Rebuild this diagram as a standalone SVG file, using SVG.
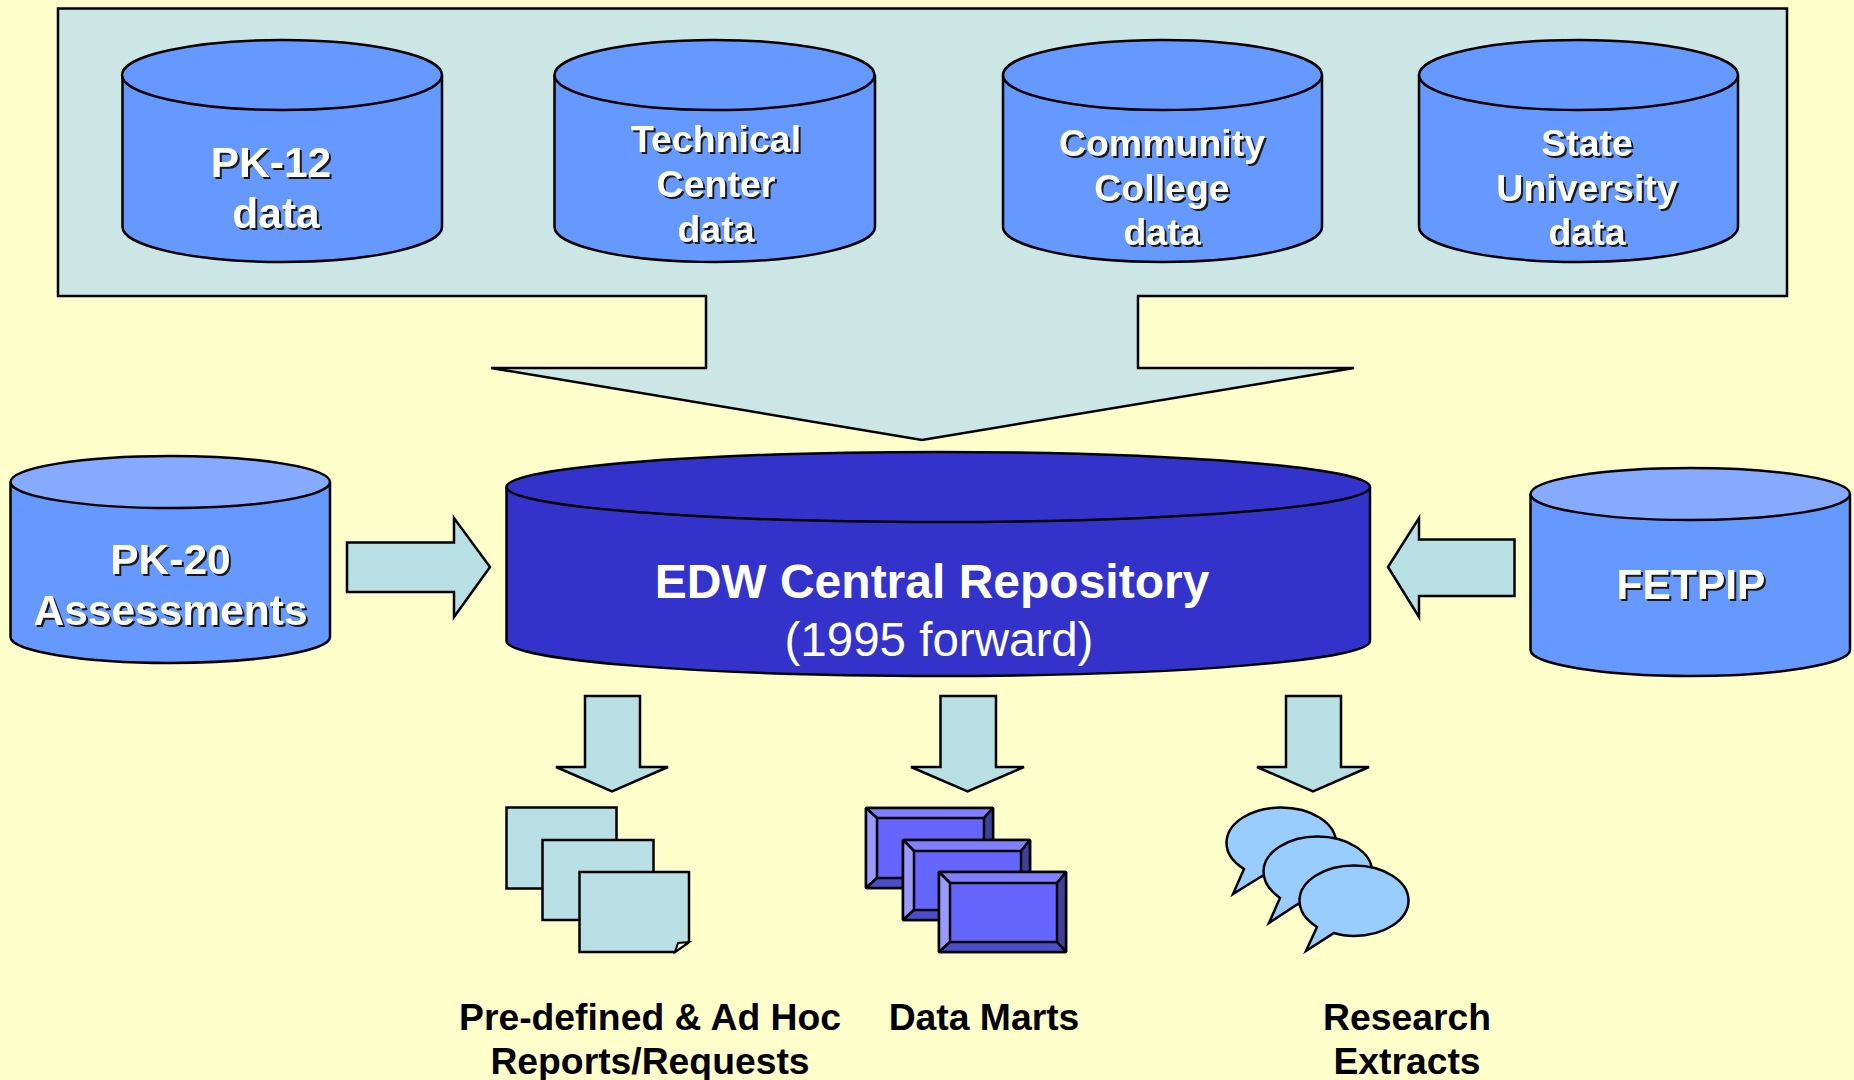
<svg xmlns="http://www.w3.org/2000/svg" width="1854" height="1080" viewBox="0 0 1854 1080">
<style>
.o{stroke:#000;stroke-width:2.500;stroke-linejoin:miter}
.cyl{fill:#6699ff}.cylt{fill:#85aaff}.edw{fill:#3333cc}
.fr{fill:#cce6e6}.ar{fill:#b8e0e4}.doc{fill:#b8e0e4}.bub{fill:#99ccff}
.m{fill:#6666ff}.mt{fill:#8080ff}.ml{fill:#9999ff}.mr{fill:#404099}.mb{fill:#4d4dcc}
.k{stroke-linejoin:bevel}
text{font-family:"Liberation Sans",Arial,sans-serif;text-anchor:middle}
.w{fill:#fff;font-weight:bold;filter:drop-shadow(2px 2px 0 #1a1a1a)}
.s42{font-size:42.500px}.s37{font-size:37.500px}
.b{fill:#000;font-weight:bold;font-size:37.300px}
.t1{fill:#fff;font-weight:bold;font-size:48px}.t2{fill:#fff;font-size:47.500px}
</style>
<rect width="1854" height="1080" fill="#ffffcc"/>
<g id="source-frame"><path class="o fr" d="M58 8.500H1787V296H1138V368H1354L922 440L491 368H706V296H58Z"/></g>
<g id="pk12"><path class="o cyl" d="M122.500 75V227C122.500 246 194 262 282 262S442 246 442 227V75"/><ellipse class="o cyl" cx="282" cy="75" rx="160" ry="35"/><text class="w s42" x="271" y="177">PK-12</text><text class="w s42" x="276" y="228">data</text></g>
<g id="technical"><path class="o cyl" d="M554.500 75V227C554.500 246 626 262 714.500 262S875 246 875 227V75"/><ellipse class="o cyl" cx="714.500" cy="75" rx="160" ry="35"/><text class="w s37" x="716" y="152">Technical</text><text class="w s37" x="716" y="197">Center</text><text class="w s37" x="716" y="242">data</text></g>
<g id="community"><path class="o cyl" d="M1003 75V227C1003 246 1075 262 1162.500 262S1322 246 1322 227V75"/><ellipse class="o cyl" cx="1162.500" cy="75" rx="159.500" ry="35"/><text class="w s37" x="1162" y="156">Community</text><text class="w s37" x="1162" y="201">College</text><text class="w s37" x="1162" y="245">data</text></g>
<g id="state"><path class="o cyl" d="M1419 75V227C1419 246 1491 262 1578.500 262S1738 246 1738 227V75"/><ellipse class="o cyl" cx="1578.500" cy="75" rx="159.500" ry="35"/><text class="w s37" x="1587" y="156">State</text><text class="w s37" x="1587" y="201">University</text><text class="w s37" x="1587" y="245">data</text></g>
<g id="pk20"><path class="o cyl" d="M10.500 482V637C10.500 651 82 663 170 663S330 651 330 637V482"/><ellipse class="o cylt" cx="170.250" cy="482" rx="159.750" ry="26"/><text class="w s42" x="170.500" y="574">PK-20</text><text class="w s42" x="170.500" y="625">Assessments</text></g>
<g id="fetpip"><path class="o cyl" d="M1530.500 494V650C1530.500 664 1602 676 1690 676S1850 664 1850 650V494"/><ellipse class="o cylt" cx="1690.250" cy="494" rx="159.750" ry="26"/><text class="w s42" x="1691" y="599">FETPIP</text></g>
<g id="edw"><path class="o edw" d="M506.500 487V641C506.500 660 699 676 938 676S1370 660 1370 641V487"/><ellipse class="o edw" cx="938.250" cy="487" rx="431.750" ry="35"/><text class="t1" x="932" y="598">EDW Central Repository</text><text class="t2" x="939" y="655.500">(1995 forward)</text></g>
<g id="connectors">
<path class="o ar" d="M347 542.500H454V518L490 567L454 617V592H347Z"/>
<path class="o ar" d="M1514.500 539.500H1419V518L1388 567L1419 617V596H1514.500Z"/>
<path class="o ar" d="M585 696H640V767H668L612 791.500L556 767H585Z"/>
<path class="o ar" d="M940.500 696H996V767H1024L967.500 791.500L911 767H940.500Z"/>
<path class="o ar" d="M1286 696H1341V767H1369L1313 791.500L1257 767H1286Z"/>
</g>
<g id="reports">
<rect class="o doc" x="506.500" y="807.500" width="110" height="81"/>
<rect class="o doc" x="542.500" y="840" width="111" height="80"/>
<path class="o doc" d="M579.500 872H689V942L675 952H579.500Z"/>
<path d="M675 952L678 943L689 942Z" fill="#ffffcc" stroke="#000" stroke-width="2"/>
<text class="b" x="650" y="1030">Pre-defined &amp; Ad Hoc</text><text class="b" x="650" y="1074">Reports/Requests</text>
</g>
<g id="marts">
<g class="o k"><rect class="m" x="866" y="808" width="127" height="80"/><path class="mt" d="M866 808H993L984 818H877Z"/><path class="ml" d="M866 808L877 818V878L866 888Z"/><path class="mr" d="M993 808L984 818V878L993 888Z"/><path class="mb" d="M866 888L877 878H984L993 888Z"/></g>
<g class="o k"><rect class="m" x="903" y="840" width="127" height="80"/><path class="mt" d="M903 840H1030L1021 851H914Z"/><path class="ml" d="M903 840L914 851V910L903 920Z"/><path class="mr" d="M1030 840L1021 851V910L1030 920Z"/><path class="mb" d="M903 920L914 910H1021L1030 920Z"/></g>
<g class="o k"><rect class="m" x="939" y="872" width="127" height="80"/><path class="mt" d="M939 872H1066L1057 883H950Z"/><path class="ml" d="M939 872L950 883V942L939 952Z"/><path class="mr" d="M1066 872L1057 883V942L1066 952Z"/><path class="mb" d="M939 952L950 942H1057L1066 952Z"/></g>
<text class="b" x="984" y="1030">Data Marts</text>
</g>
<g id="extracts">
<path class="o bub" d="M1244 869C1233 862 1226.500 853 1226.500 843C1226.500 823 1251 807.500 1281 807.500S1336 823 1336 843S1311 879 1281 879C1273 879 1268 878 1262 876L1233 894Z"/>
<path class="o bub" d="M1280 898C1270 891 1263.500 882 1263.500 871.500C1263.500 852 1288 836.500 1317.500 836.500S1372 852 1372 871.500S1347 907 1317.500 907C1310 907 1304 906 1298 904L1269 923Z"/>
<path class="o bub" d="M1317 927C1306 920 1299.500 911 1299.500 900.500C1299.500 881 1324 865.500 1354 865.500S1408.500 881 1408.500 900.500S1384 936 1354 936C1346 936 1340 935 1334 933L1306 951Z"/>
<text class="b" x="1407" y="1030">Research</text><text class="b" x="1407" y="1074">Extracts</text>
</g>
</svg>
